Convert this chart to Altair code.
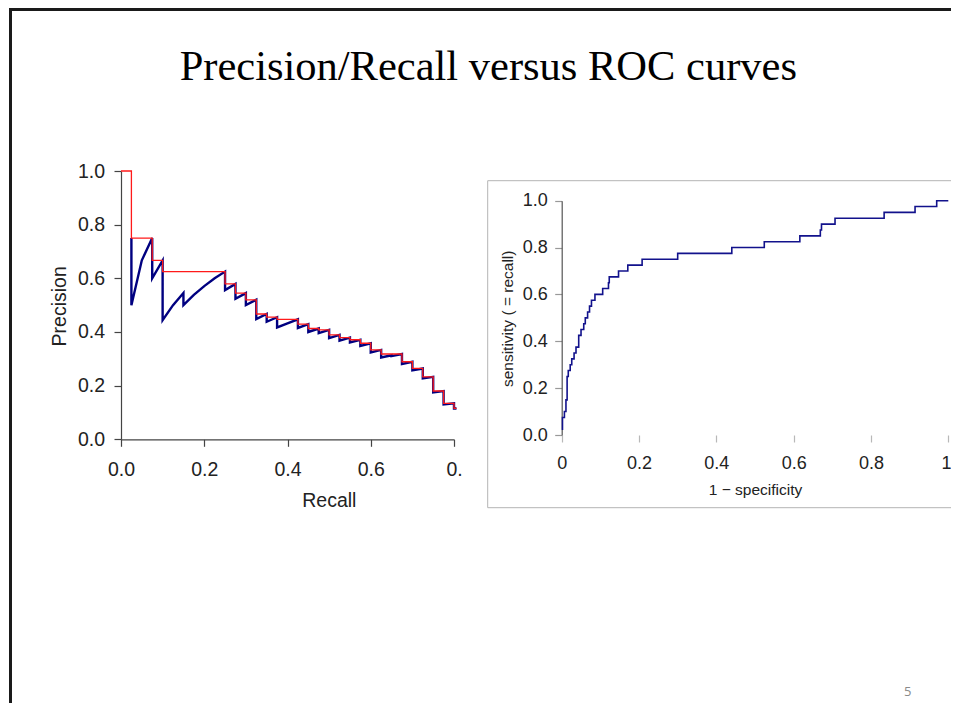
import altair as alt
import pandas as pd

W, H = 943, 695
SANS = "Liberation Sans"
SERIF = "Liberation Serif"

# ---------------- data ----------------
# Precision / recall: actual curve (blue), in ranking order
pr_blue_recall = [0.025, 0.025, 0.05, 0.075, 0.075, 0.1, 0.1, 0.125, 0.15, 0.15,
                  0.175, 0.2, 0.225, 0.25, 0.25, 0.275, 0.275, 0.3, 0.3, 0.325,
                  0.325, 0.35, 0.35, 0.375, 0.375, 0.4, 0.425, 0.425, 0.45, 0.45,
                  0.475, 0.475, 0.5, 0.5, 0.525, 0.525, 0.55, 0.55, 0.575, 0.575,
                  0.6, 0.6, 0.625, 0.625, 0.65, 0.65, 0.675, 0.675, 0.7, 0.7,
                  0.725, 0.725, 0.75, 0.75, 0.775, 0.775, 0.8, 0.8, 0.806]
pr_blue_precision = [0.75, 0.5, 0.667, 0.75, 0.6, 0.667, 0.444, 0.5, 0.545, 0.5,
                     0.538, 0.571, 0.6, 0.625, 0.556, 0.579, 0.524, 0.545, 0.5, 0.52,
                     0.448, 0.467, 0.438, 0.455, 0.417, 0.432, 0.447, 0.415, 0.429, 0.4,
                     0.413, 0.396, 0.408, 0.377, 0.389, 0.368, 0.379, 0.361, 0.371, 0.348,
                     0.358, 0.324, 0.333, 0.305, 0.313, 0.31, 0.318, 0.281, 0.289, 0.257,
                     0.264, 0.227, 0.233, 0.175, 0.18, 0.13, 0.134, 0.115, 0.115]
# interpolated precision (red step line)
pr_red_recall = [0.0, 0.025, 0.075, 0.1, 0.25, 0.275, 0.3, 0.325, 0.35, 0.375,
                 0.425, 0.45, 0.475, 0.5, 0.525, 0.55, 0.575, 0.6, 0.625, 0.675,
                 0.7, 0.725, 0.75, 0.775, 0.8, 0.806]
pr_red_precision = [1.0, 0.75, 0.667, 0.625, 0.579, 0.545, 0.52, 0.467, 0.455, 0.447,
                    0.429, 0.413, 0.408, 0.389, 0.379, 0.371, 0.358, 0.333, 0.318, 0.289,
                    0.264, 0.233, 0.18, 0.134, 0.115, 0.115]
# ROC curve steps
roc_fpr = [0.0, 0.002, 0.007, 0.011, 0.014, 0.017, 0.022, 0.026, 0.032, 0.037,
           0.044, 0.05, 0.057, 0.061, 0.067, 0.072, 0.077, 0.086, 0.106, 0.121,
           0.123, 0.147, 0.171, 0.208, 0.3, 0.44, 0.524, 0.616, 0.669, 0.672,
           0.707, 0.834, 0.914, 0.97, 1.0]
roc_tpr = [0.025, 0.075, 0.1, 0.15, 0.25, 0.275, 0.3, 0.325, 0.35, 0.375,
           0.425, 0.45, 0.475, 0.5, 0.525, 0.55, 0.575, 0.6, 0.625, 0.65,
           0.675, 0.7, 0.725, 0.75, 0.775, 0.8, 0.825, 0.85, 0.875, 0.9,
           0.925, 0.95, 0.975, 1.0, 1.0]

pr_x_ticks = [0.0, 0.2, 0.4, 0.6, 0.8]
pr_y_ticks = [0.0, 0.2, 0.4, 0.6, 0.8, 1.0]
roc_x_ticks = [0.0, 0.2, 0.4, 0.6, 0.8, 1.0]
roc_y_ticks = [0.0, 0.2, 0.4, 0.6, 0.8, 1.0]

slide_title = "Precision/Recall versus ROC curves"
page_number = "5"

# ---------------- layout (pixels in chart coordinates) ----------------
PR_X_RANGE = [113, 446]
PR_Y_RANGE = [431.3, 163]
ROC_X_RANGE = [553.7, 940.3]
ROC_Y_RANGE = [427, 192.7]

blue_df = pd.DataFrame({"recall": pr_blue_recall, "precision": pr_blue_precision,
                        "i": list(range(len(pr_blue_recall)))})
red_df = pd.DataFrame({"recall": pr_red_recall, "precision": pr_red_precision})
roc_df = pd.DataFrame({"fpr": roc_fpr, "tpr": roc_tpr})

pr_xscale = alt.Scale(domain=[0, 0.8], range=PR_X_RANGE, nice=False, zero=False)
pr_yscale = alt.Scale(domain=[0, 1], range=PR_Y_RANGE, nice=False, zero=False)
roc_xscale = alt.Scale(domain=[0, 1], range=ROC_X_RANGE, nice=False, zero=False)
roc_yscale = alt.Scale(domain=[0, 1], range=ROC_Y_RANGE, nice=False, zero=False)

pr_x_axis = alt.Axis(
    orient="bottom", offset=-(H - PR_Y_RANGE[0]), values=pr_x_ticks, format=".1f",
    labelExpr="datum.value > 0.75 ? '0.' : datum.label", labelFlush=False,
    labelFont=SANS, labelFontSize=19.5, labelColor="#222222", labelPadding=14,
    tickSize=7, tickColor="#444444", tickWidth=1.2, domainColor="#444444", domainWidth=1.2,
    grid=False, title="Recall", titleFont=SANS, titleFontSize=19.5, titleFontWeight="normal",
    titleColor="#222222", titleX=320.8, titleY=67.4, titleAlign="center",
    titleBaseline="alphabetic", titleAngle=0)
pr_y_axis = alt.Axis(
    orient="left", offset=-PR_X_RANGE[0], values=pr_y_ticks, format=".1f", labelFlush=False,
    labelFont=SANS, labelFontSize=19.5, labelColor="#222222", labelPadding=9.5,
    tickSize=7, tickColor="#444444", tickWidth=1.2, domainColor="#444444", domainWidth=1.2,
    grid=False, title="Precision", titleFont=SANS, titleFontSize=19.5, titleFontWeight="normal",
    titleColor="#222222", titleX=-56, titleY=297.8, titleAlign="center",
    titleBaseline="alphabetic", titleAngle=270)

roc_x_axis = alt.Axis(
    orient="bottom", offset=-(H - ROC_Y_RANGE[0]), values=roc_x_ticks, format="~g",
    labelFlush=False, domain=False,
    labelAlign={"condition": {"test": "datum.value >= 1", "value": "right"}, "value": "center"},
    labelOffset={"condition": {"test": "datum.value >= 1", "value": 2.6}, "value": 0},
    labelFont=SANS, labelFontSize=18, labelColor="#222222", labelPadding=12.5,
    tickSize=7, tickColor="#b8b8b8", tickWidth=1.2,
    grid=False, title="1 \u2212 specificity", titleFont=SANS, titleFontSize=15.5,
    titleFontWeight="normal", titleColor="#222222", titleX=747, titleY=59.3,
    titleAlign="center", titleBaseline="alphabetic", titleAngle=0)
roc_y_axis = alt.Axis(
    orient="left", offset=-ROC_X_RANGE[0], values=roc_y_ticks, format=".1f", labelFlush=False,
    labelFont=SANS, labelFontSize=18, labelColor="#222222", labelPadding=7.5,
    tickSize=7, tickColor="#999999", tickWidth=1.2, domainColor="#555555", domainWidth=1.2,
    grid=False, title="sensitivity ( = recall)", titleFont=SANS, titleFontSize=15.5,
    titleFontWeight="normal", titleColor="#222222", titleX=-54, titleY=310.3,
    titleAlign="center", titleBaseline="middle", titleAngle=270)

# ---------------- layers ----------------
border_top = alt.Chart(pd.DataFrame({"k": [0]})).mark_rule(
    color="#1a1a1a", strokeWidth=3).encode(
    x=alt.value(1), x2=alt.value(W), y=alt.value(1.5))
border_left = alt.Chart(pd.DataFrame({"k": [0]})).mark_rule(
    color="#1a1a1a", strokeWidth=3).encode(
    x=alt.value(2.5), y=alt.value(0), y2=alt.value(H))

title = alt.Chart(pd.DataFrame({"t": [slide_title]})).mark_text(
    font=SERIF, fontSize=42.5, color="#000000", align="center", baseline="alphabetic").encode(
    text="t:N", x=alt.value(480.3), y=alt.value(72))

roc_box = alt.Chart(pd.DataFrame({"k": [0]})).mark_rect(
    fillOpacity=0, stroke="#b4b4b4", strokeWidth=1).encode(
    x=alt.value(479.7), x2=alt.value(W + 10), y=alt.value(172.7), y2=alt.value(499.7))

pr_blue = alt.Chart(blue_df).mark_line(color="#000080", strokeWidth=2.4).encode(
    x=alt.X("recall:Q", scale=pr_xscale, axis=pr_x_axis),
    y=alt.Y("precision:Q", scale=pr_yscale, axis=pr_y_axis),
    order="i:Q")

pr_red = alt.Chart(red_df).mark_line(color="#ff1a1a", strokeWidth=1.3,
                                      interpolate="step-after").encode(
    x=alt.X("recall:Q", scale=pr_xscale, axis=None),
    y=alt.Y("precision:Q", scale=pr_yscale, axis=None))

roc_line = alt.Chart(roc_df).mark_line(color="#12128c", strokeWidth=1.6,
                                        interpolate="step-after").encode(
    x=alt.X("fpr:Q", scale=roc_xscale, axis=roc_x_axis),
    y=alt.Y("tpr:Q", scale=roc_yscale, axis=roc_y_axis))

page_no = alt.Chart(pd.DataFrame({"t": [page_number]})).mark_text(
    font="Open Sans", fontSize=13, color="#8a8a8a", align="center", baseline="alphabetic").encode(
    text="t:N", x=alt.value(899.7), y=alt.value(688))

chart = alt.layer(
    border_top, border_left, title, roc_box, pr_blue, pr_red, roc_line, page_no
).resolve_scale(
    x="independent", y="independent"
).properties(
    width=W, height=H, padding=0, autosize=alt.AutoSizeParams(type="none"),
    background="white"
).configure_view(stroke=None)

chart.save("out.html", embed_options={"renderer": "svg", "actions": False})
